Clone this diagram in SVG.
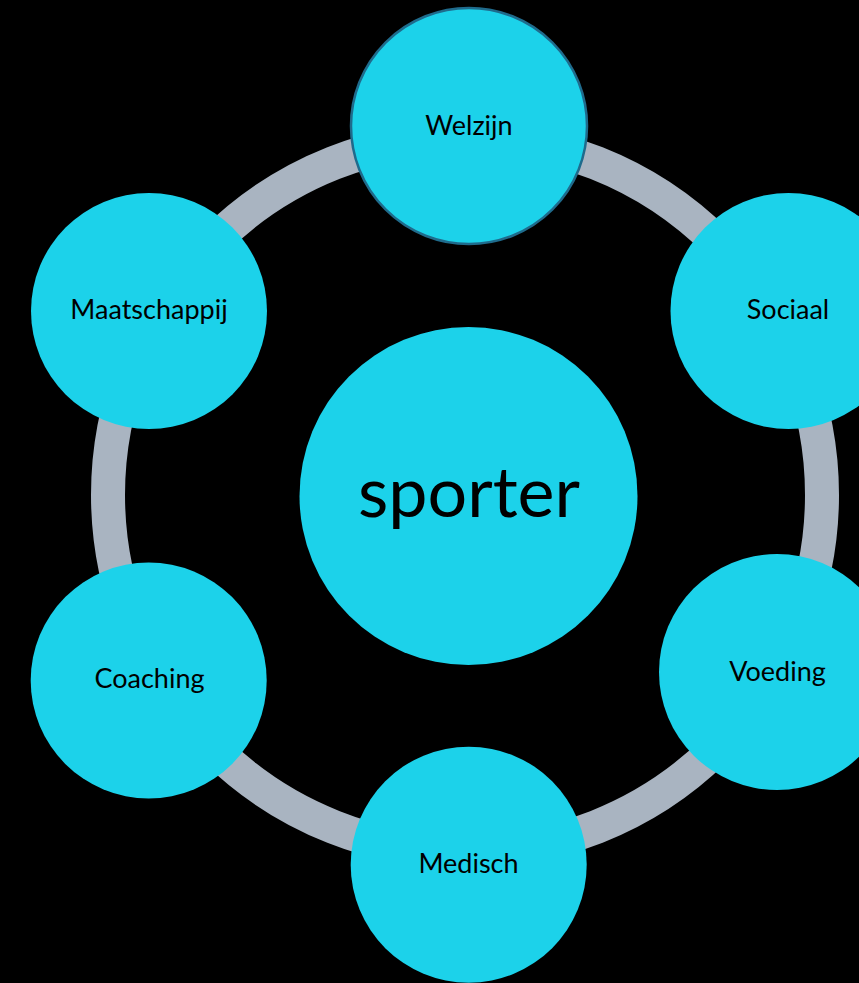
<svg xmlns="http://www.w3.org/2000/svg" width="859" height="983" viewBox="0 0 859 983">
<style>
.node{fill:#1cd2ea}
.lbl{font-family:Lato,"Open Sans","Liberation Sans",sans-serif;font-size:27px;fill:#000;text-anchor:middle}
.big{font-size:70px}
.ring{fill:none;stroke:#a9b4c1;stroke-width:34}
</style>
<rect x="0" y="0" width="859" height="983" fill="#000"/>
<g id="connectors">
<circle class="ring" cx="465" cy="495" r="357"/>
</g>
<g id="node-sporter">
<circle class="node" cx="468.5" cy="496" r="169"/>
<text class="lbl big" x="469" y="517">sporter</text>
</g>
<g id="node-welzijn">
<circle class="node" cx="469" cy="126" r="118" stroke="#1f6b8c" stroke-width="2.5"/>
<text class="lbl" x="469" y="135">Welzijn</text>
</g>
<g id="node-sociaal">
<circle class="node" cx="788.5" cy="311" r="118"/>
<text class="lbl" x="788" y="319">Sociaal</text>
</g>
<g id="node-voeding">
<circle class="node" cx="777" cy="672" r="118"/>
<text class="lbl" x="777.5" y="681">Voeding</text>
</g>
<g id="node-medisch">
<circle class="node" cx="468.7" cy="864.7" r="118"/>
<text class="lbl" x="468.5" y="873">Medisch</text>
</g>
<g id="node-coaching">
<circle class="node" cx="148.7" cy="680.5" r="118"/>
<text class="lbl" x="149.5" y="688">Coaching</text>
</g>
<g id="node-maatschappij">
<circle class="node" cx="149" cy="311" r="118"/>
<text class="lbl" x="149" y="319">Maatschappij</text>
</g>
</svg>
